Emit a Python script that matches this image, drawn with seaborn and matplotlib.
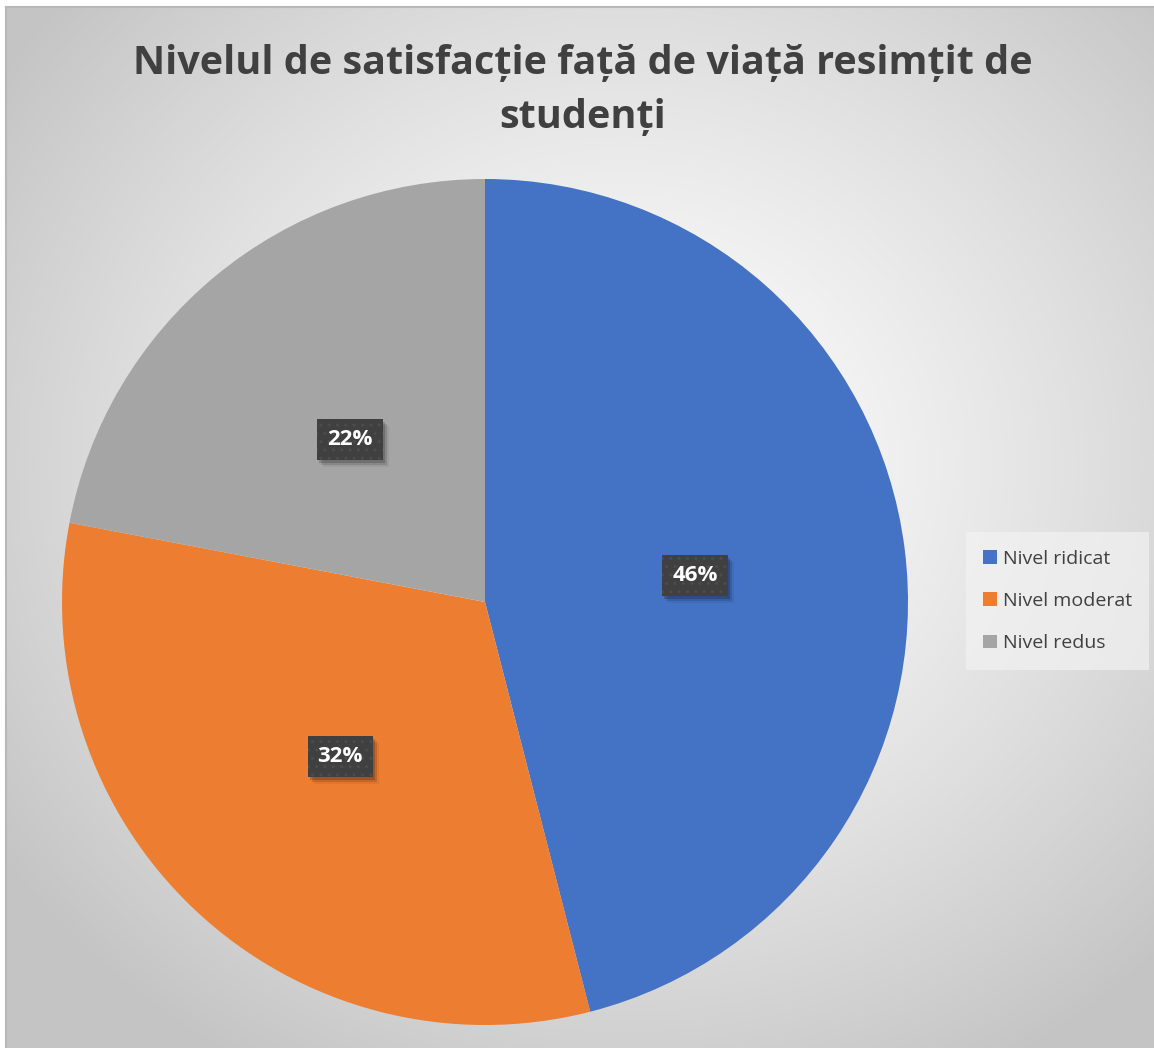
import matplotlib
matplotlib.use("Agg")
import matplotlib.pyplot as plt
from matplotlib.patches import Rectangle
import numpy as np
import seaborn as sns

# Data
categories = ["Nivel ridicat", "Nivel moderat", "Nivel redus"]
shares = [46, 32, 22]
title_text = "Nivelul de satisfacție față de viață resimțit de\nstudenți"

sns.set_theme(style="white")
plt.rcParams["font.family"] = ["Open Sans", "DejaVu Sans"]
palette = sns.color_palette(["#4472C4", "#ED7D31", "#A5A5A5"])

W, H = 1154, 1048
fig = plt.figure(figsize=(W / 100, H / 100), dpi=100)
fig.patch.set_facecolor("white")

# radial gradient background
bg = fig.add_axes([6 / W, 0, 1 - 6 / W, 1 - 7 / H])
yy, xx = np.mgrid[0:H, 0:W]
d = np.sqrt(((xx - 620) / 760) ** 2 + ((yy - 460) / 700) ** 2)
shade = 1.0 - 0.23 * np.clip(d, 0, 1) ** 1.3
bg.imshow(np.dstack([shade] * 3), aspect="auto", interpolation="bilinear")
bg.set_axis_off()
fig.add_artist(plt.Line2D([6 / W, 6 / W], [0, 1 - 7 / H], color="#b8b8b8", lw=1.5))
fig.add_artist(plt.Line2D([6 / W, 1], [1 - 7 / H, 1 - 7 / H], color="#b8b8b8", lw=1.5))

# pie
cx, cy, r = 485, 602, 423
ax = fig.add_axes([(cx - r) / W, (H - cy - r) / H, 2 * r / W, 2 * r / H])
wedges, texts, autotexts = ax.pie(
    shares, colors=palette, startangle=90, counterclock=False,
    autopct="%d%%", pctdistance=0.5,
    wedgeprops=dict(linewidth=0),
    textprops=dict(color="white", fontsize=16, fontweight="bold", zorder=5),
)
ax.set_xlim(-1, 1)
ax.set_ylim(-1, 1)
ax.set_aspect("equal")
ax.set_axis_off()

for t in autotexts:
    t.set_bbox(dict(boxstyle="square,pad=0.45", facecolor="#404040",
                    edgecolor="#4c4c4c", hatch="..", linewidth=0))

# soft drop shadow under each label box
fig.canvas.draw()
for t in autotexts:
    ext = t.get_bbox_patch().get_window_extent()
    for dx, dy, a in [(2, -3, 0.18), (4, -5, 0.12), (6, -7, 0.06)]:
        fig.add_artist(Rectangle((ext.x0 + dx, ext.y0 + dy), ext.width, ext.height,
                                 transform=None, facecolor="black", alpha=a,
                                 linewidth=0, zorder=1))
    # keep the label on top of its shadow
    t.remove()
    fig.add_artist(t)
    t.set_zorder(2)

fig.text(583 / W, 1 - 90 / H, title_text, ha="center", va="center",
         fontsize=28.5, fontweight="bold", color="#404040", linespacing=1.5)

leg = fig.legend(wedges, categories, loc="center left",
                 bbox_to_anchor=(962 / W, 1 - 601 / H),
                 frameon=True, fontsize=14, handlelength=0.7, handleheight=0.7,
                 handletextpad=0.3, labelspacing=1.25, borderpad=0.6,
                 labelcolor="#404040")
leg.get_frame().set_facecolor("#f2f2f2")
leg.get_frame().set_alpha(0.7)
leg.get_frame().set_edgecolor("none")
leg.get_frame().set_boxstyle("square")

fig.savefig("out.png", dpi=100)
